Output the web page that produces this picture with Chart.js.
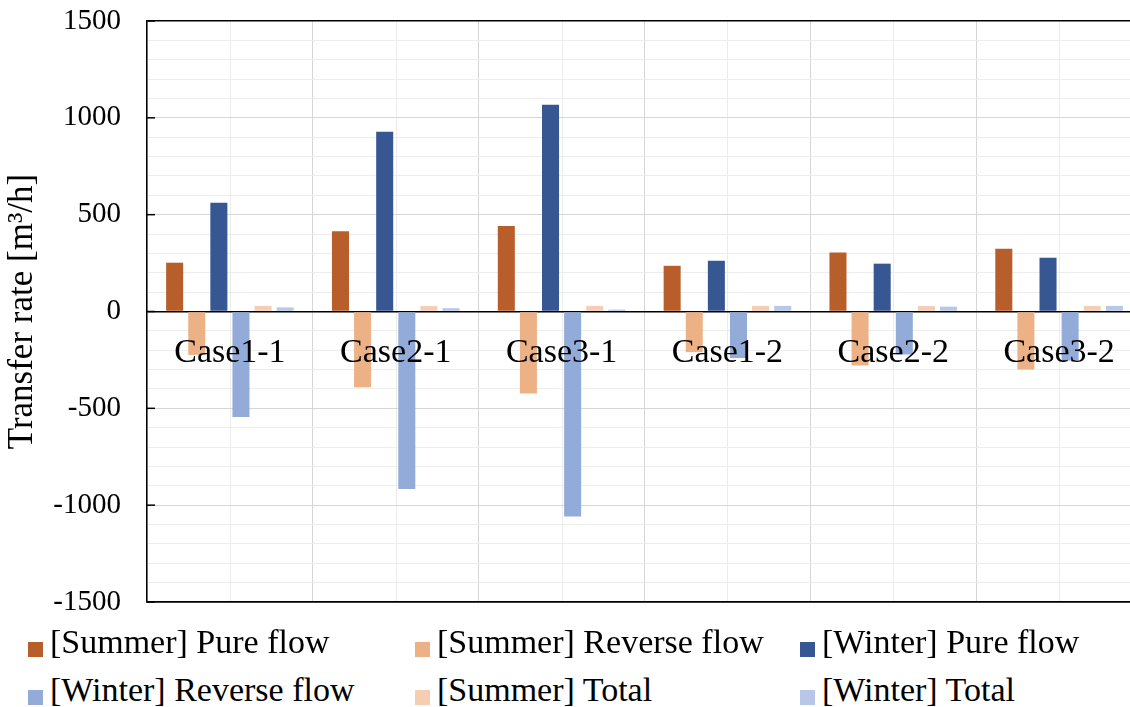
<!DOCTYPE html>
<html>
<head>
<meta charset="utf-8">
<script src="https://cdn.jsdelivr.net/npm/chart.js@4.4.1/dist/chart.umd.min.js"></script>
<style>
  body { margin: 0; background: #fff; overflow: hidden; width: 1130px; height: 707px; position: relative; }
  #wrap { position: absolute; left: 0; top: 0; width: 1150px; height: 630px; }
  .item { position: absolute; font-family: "Liberation Serif", "Times New Roman", serif; font-size: 34px; line-height: 40px; color: #000; white-space: nowrap; }
  .box { position: absolute; width: 15px; height: 15px; }
</style>
</head>
<body>
<div id="wrap"><canvas id="myChart"></canvas></div>
<div id="legend"></div>
<script>
// Daten
const cases = ['Case1-1', 'Case2-1', 'Case3-1', 'Case1-2', 'Case2-2', 'Case3-2'];
const summerPure = [252, 415, 442, 236, 305, 324];
const summerReverse = [-224, -391, -423, -210, -279, -300];
const winterPure = [562, 928, 1067, 262, 247, 278];
const winterReverse = [-545, -917, -1058, -240, -222, -253];
const summerTotal = [29, 28, 29, 29, 28, 29];
const winterTotal = [21, 17, 10, 29, 25, 29];
const yTicks = [-1500, -1000, -500, 0, 500, 1000, 1500];

const serif = '"Liberation Serif", "Times New Roman", serif';

const series = [
  { label: '[Summer] Pure flow', data: summerPure, color: '#b85e2a' },
  { label: '[Summer] Reverse flow', data: summerReverse, color: '#ecb185' },
  { label: '[Winter] Pure flow', data: winterPure, color: '#365792' },
  { label: '[Winter] Reverse flow', data: winterReverse, color: '#93abd9' },
  { label: '[Summer] Total', data: summerTotal, color: '#f5cdb2' },
  { label: '[Winter] Total', data: winterTotal, color: '#b7c7e7' }
];

// Hilfslinien in der Mitte jeder Kategorie + kleine Striche an der y-Achse
const extraLines = {
  id: 'extraLines',
  beforeDraw(chart) {
    const c = chart.ctx, a = chart.chartArea, x = chart.scales.x;
    c.save();
    c.strokeStyle = '#ececec';
    c.lineWidth = 1;
    cases.forEach((_, i) => {
      const px = Math.round(x.getPixelForValue(i)) + 0.5;
      c.beginPath();
      c.moveTo(px, a.top);
      c.lineTo(px, a.bottom);
      c.stroke();
    });
    c.restore();
  },
  afterDraw(chart) {
    const c = chart.ctx, a = chart.chartArea, y = chart.scales.y;
    c.save();
    c.strokeStyle = '#000';
    c.lineWidth = 1.5;
    yTicks.forEach(v => {
      const py = y.getPixelForValue(v);
      c.beginPath();
      c.moveTo(a.left, py);
      c.lineTo(a.left + 8, py);
      c.stroke();
    });
    c.restore();
  }
};

const chart = new Chart(document.getElementById('myChart'), {
  type: 'bar',
  data: {
    labels: cases,
    datasets: series.map(s => ({
      label: s.label,
      data: s.data,
      backgroundColor: s.color,
      borderWidth: 0,
      xAxisID: 'x',
      yAxisID: 'y',
      categoryPercentage: 0.8,
      barPercentage: 0.77
    }))
  },
  options: {
    responsive: true,
    maintainAspectRatio: false,
    animation: false,
    layout: { padding: { top: 21, right: 8, bottom: 28, left: 0 } },
    plugins: { legend: { display: false }, tooltip: { enabled: false } },
    scales: {
      x: {
        type: 'category',
        position: 'bottom',
        offset: true,
        grid: { offset: true, color: '#d6d6d6', lineWidth: 1, drawTicks: false },
        border: { display: true, color: '#000', width: 1.5 },
        ticks: { display: false }
      },
      xLabels: {
        type: 'category',
        position: { y: 0 },
        offset: true,
        grid: { display: false, drawTicks: false },
        border: { display: false },
        ticks: { z: 1, color: '#000', font: { family: serif, size: 34 }, padding: 21, maxRotation: 0, autoSkip: false }
      },
      y: {
        min: -1500,
        max: 1500,
        afterFit(scale) {
          scale.width = 147;
          scale.paddingTop = 0;
          scale.paddingBottom = 0;
        },
        grid: {
          drawTicks: false,
          color: ctx => {
            const v = ctx.tick.value;
            if (v === 0 || v === 1500 || v === -1500) return '#000';
            return v % 500 === 0 ? '#d6d6d6' : '#ededed';
          },
          lineWidth: ctx => (ctx.tick.value === 0 || Math.abs(ctx.tick.value) === 1500) ? 1.5 : 1
        },
        border: { color: '#000', width: 1.5 },
        ticks: {
          stepSize: 100,
          autoSkip: false,
          padding: 26,
          color: '#000',
          font: { family: serif, size: 29 },
          callback: v => (yTicks.includes(v) ? String(v) : '')
        },
        title: {
          display: true,
          text: 'Transfer rate [m³/h]',
          color: '#000',
          font: { family: serif, size: 35 },
          padding: { top: 2, bottom: 0 }
        }
      }
    }
  },
  plugins: [extraLines]
});

// Legende (3 Spalten, 2 Zeilen wie im Original)
const legendCols = [28, 415, 800];
const legendRows = [622, 670];
const legend = document.getElementById('legend');
series.forEach((s, i) => {
  const col = legendCols[i % 3], row = legendRows[Math.floor(i / 3)];
  const box = document.createElement('div');
  box.className = 'box';
  box.style.left = col + 'px';
  box.style.top = (row + 20) + 'px';
  box.style.background = s.color;
  legend.appendChild(box);
  const txt = document.createElement('div');
  txt.className = 'item';
  txt.style.left = (col + 22) + 'px';
  txt.style.top = row + 'px';
  txt.textContent = s.label;
  legend.appendChild(txt);
});
</script>
</body>
</html>
